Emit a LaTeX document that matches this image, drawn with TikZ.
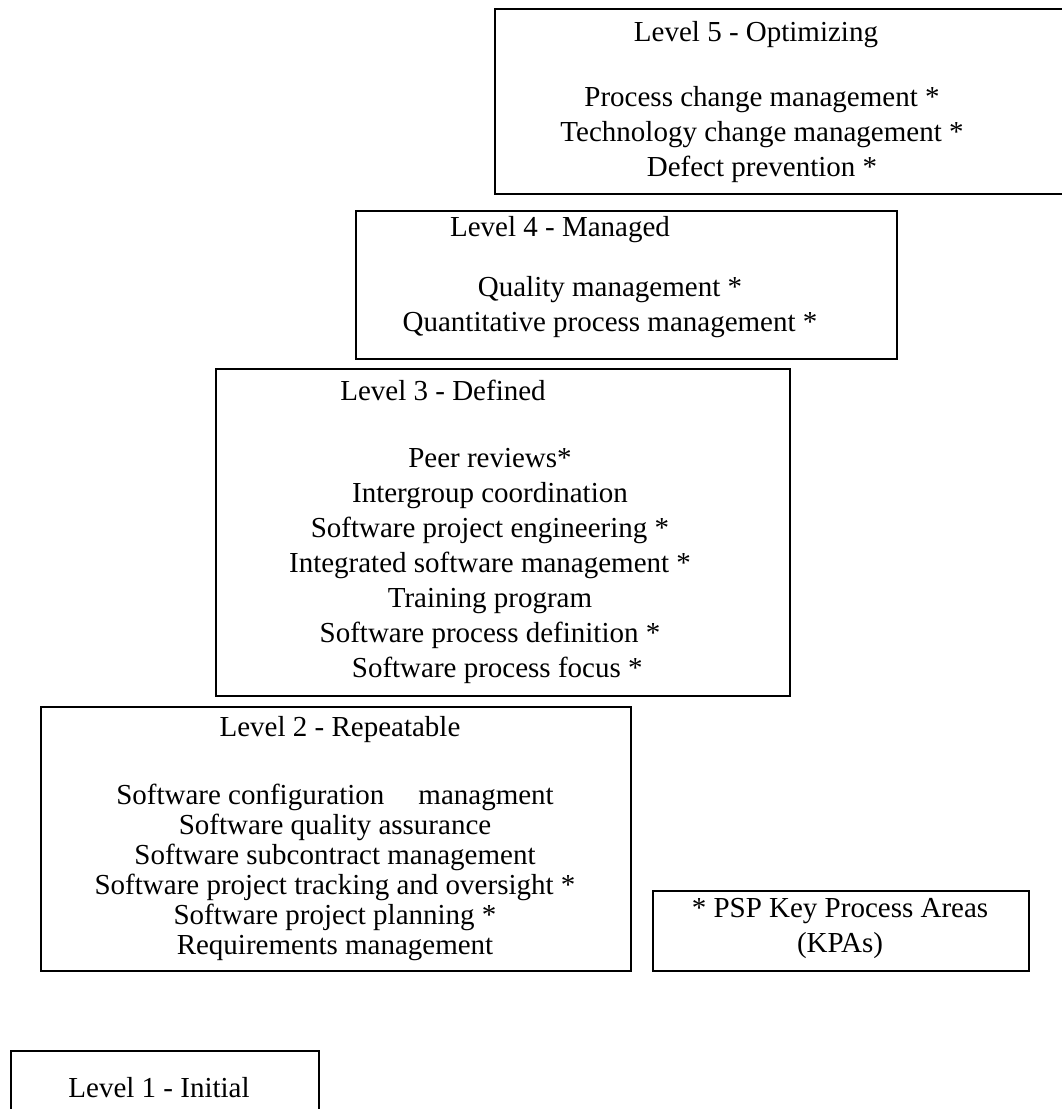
\documentclass[tikz,border=0pt]{standalone}
\usepackage{fontspec}
\setmainfont{Liberation Serif}
\begin{document}
\begin{tikzpicture}[x=1pt,y=-1pt,
    box/.style={draw,line width=1.5pt,anchor=north west,inner sep=0pt},
    txt/.style={font=\fontsize{29}{35}\selectfont,inner sep=0pt,align=center}]
    \useasboundingbox (0,0) rectangle (1061,1109);
    % the five levels, stepping up to the right
    \node[box,minimum width=590pt,minimum height=185pt] (l5) at (494,8) {};
    \node[txt] (l5t) at (756,35) {Level 5 - Optimizing};
    \node[txt] (l5k) at (762,135) {Process change management *\\Technology change management *\\Defect prevention *};
    \node[box,minimum width=541pt,minimum height=148pt] (l4) at (355,210) {};
    \node[txt] (l4t) at (560,230) {Level 4 - Managed};
    \node[txt] (l4k) at (610,307) {Quality management *\\Quantitative process management *};
    \node[box,minimum width=574pt,minimum height=327pt] (l3) at (215,368) {};
    \node[txt] (l3t) at (443,390) {Level 3 - Defined};
    \node[txt] (l3k) at (490,566) {Peer reviews*\\Intergroup coordination\\Software project engineering *\\Integrated software management *\\Training program\\Software process definition *\\\ \ Software process focus *};
    \node[box,minimum width=590pt,minimum height=264pt] (l2) at (40,706) {};
    \node[txt] (l2t) at (340,730) {Level 2 - Repeatable};
    \node[txt,font=\fontsize{29}{30}\selectfont] (l2k) at (335,872) {Software configuration\hspace{34pt}managment\\Software quality assurance\\Software subcontract management\\Software project tracking and oversight *\\Software project planning *\\Requirements management};
    \node[box,minimum width=308pt,minimum height=80pt] (l1) at (10,1050) {};
    \node[txt] (l1t) at (159,1088) {Level 1 - Initial};
    % legend
    \node[box,minimum width=376pt,minimum height=80pt] (kpa) at (652,890) {};
    \node[txt] (kpat) at (840,928) {* PSP Key Process Areas\\(KPAs)};
\end{tikzpicture}
\end{document}
